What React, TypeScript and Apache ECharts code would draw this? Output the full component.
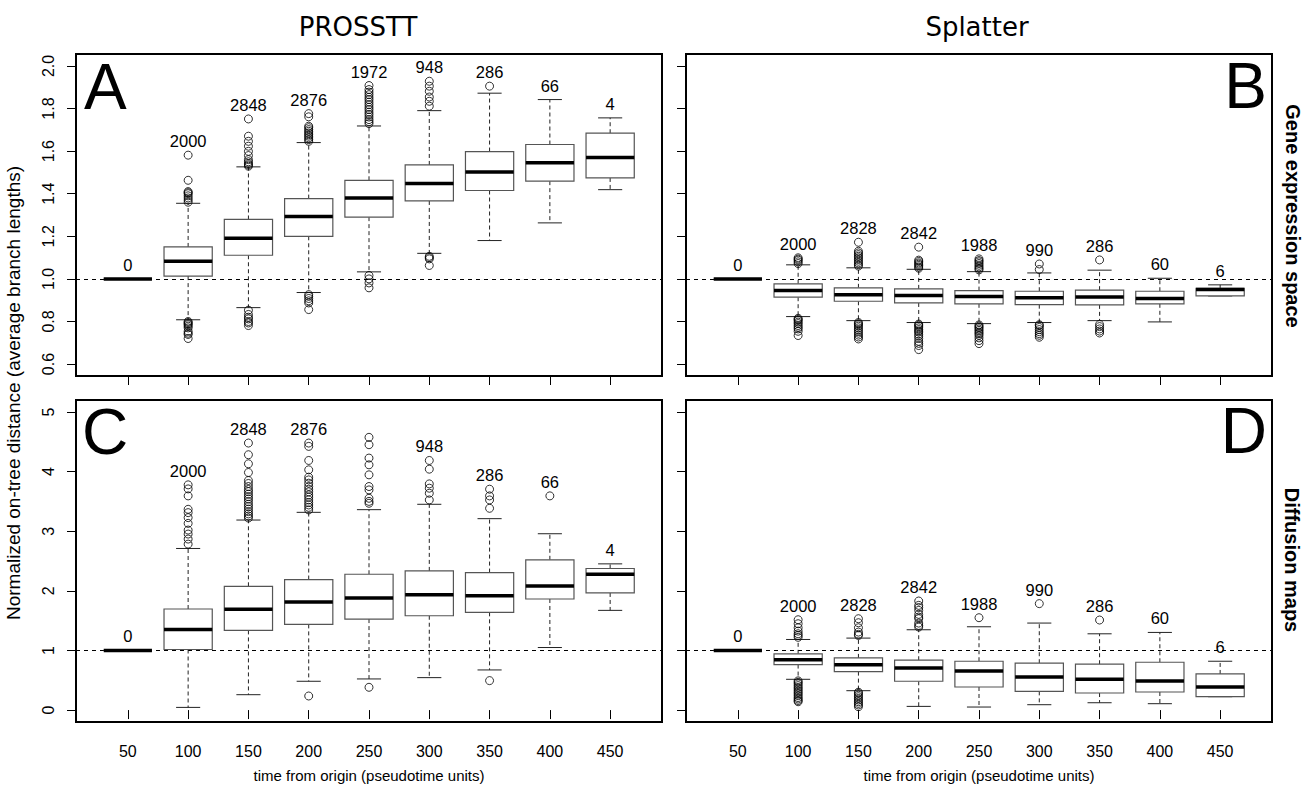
import React, { useEffect, useRef } from "react";
import * as echarts from "echarts";

// ---------- categories / ticks ----------
const TIME_LABELS = ["50", "100", "150", "200", "250", "300", "350", "400", "450"];
const POSITIONS = [1, 2, 3, 4, 5, 6, 7, 8, 9];
const TICKS_TOP = [0.6, 0.8, 1.0, 1.2, 1.4, 1.6, 1.8, 2.0];
const TICKS_BOTTOM = [0, 1, 2, 3, 4, 5];

// ---------- Panel A : PROSSTT, gene expression space ----------
const A_LOW = [1.0, 0.808, 0.865, 0.936, 1.033, 1.12, 1.18, 1.263, 1.419];
const A_Q1 = [1.0, 1.013, 1.111, 1.2, 1.29, 1.366, 1.415, 1.459, 1.474];
const A_MED = [1.0, 1.083, 1.191, 1.293, 1.38, 1.448, 1.502, 1.545, 1.57];
const A_Q3 = [1.0, 1.15, 1.279, 1.377, 1.463, 1.535, 1.598, 1.631, 1.684];
const A_HIGH = [1.0, 1.355, 1.526, 1.64, 1.718, 1.79, 1.872, 1.842, 1.756];
const A_OUT = [
  [],
  [1.581, 1.463, 1.41, 1.405, 1.4, 1.39, 1.38, 1.37, 1.36, 0.8, 0.795, 0.79, 0.785, 0.778, 0.77, 0.754, 0.745, 0.739, 0.72],
  [1.751, 1.67, 1.646, 1.623, 1.599, 1.579, 1.56, 1.55, 1.541, 1.535, 1.529, 0.853, 0.833, 0.82, 0.812, 0.8, 0.793, 0.781],
  [1.776, 1.761, 1.717, 1.71, 1.701, 1.693, 1.685, 1.677, 1.67, 1.662, 1.654, 1.646, 0.926, 0.918, 0.908, 0.897, 0.887, 0.856],
  [1.908, 1.889, 1.877, 1.865, 1.853, 1.842, 1.83, 1.818, 1.806, 1.795, 1.783, 1.772, 1.76, 1.748, 1.738, 1.729, 1.016, 1.0, 0.981, 0.958],
  [1.928, 1.905, 1.881, 1.854, 1.834, 1.811, 1.106, 1.1, 1.094, 1.063],
  [1.905],
  [],
  [],
];
const A_COUNTS = ["0", "2000", "2848", "2876", "1972", "948", "286", "66", "4"];

// ---------- Panel B : Splatter, gene expression space ----------
const B_LOW = [1.0, 0.823, 0.804, 0.795, 0.79, 0.795, 0.804, 0.798, 0.92];
const B_Q1 = [1.0, 0.914, 0.895, 0.887, 0.883, 0.879, 0.878, 0.883, 0.92];
const B_MED = [1.0, 0.945, 0.926, 0.922, 0.917, 0.911, 0.915, 0.908, 0.95];
const B_Q3 = [1.0, 0.977, 0.958, 0.953, 0.945, 0.942, 0.947, 0.942, 0.956];
const B_HIGH = [1.0, 1.066, 1.052, 1.045, 1.034, 1.028, 1.041, 1.003, 0.972];
const B_OUT = [
  [],
  [1.099, 1.093, 1.088, 1.08, 1.072, 0.815, 0.81, 0.805, 0.797, 0.79, 0.781, 0.773, 0.765, 0.754, 0.734],
  [1.172, 1.13, 1.122, 1.114, 1.106, 1.099, 1.091, 1.083, 1.075, 1.067, 1.06, 0.795, 0.79, 0.785, 0.778, 0.77, 0.762, 0.754, 0.745, 0.736, 0.727, 0.718],
  [1.149, 1.088, 1.082, 1.075, 1.069, 1.063, 1.056, 1.05, 0.788, 0.783, 0.778, 0.77, 0.762, 0.755, 0.75, 0.74, 0.731, 0.72, 0.707, 0.697, 0.687, 0.668],
  [1.094, 1.086, 1.08, 1.072, 1.064, 1.056, 1.049, 1.042, 0.784, 0.778, 0.772, 0.765, 0.758, 0.75, 0.743, 0.735, 0.723, 0.71, 0.696],
  [1.07, 1.044, 0.785, 0.781, 0.772, 0.762, 0.752, 0.743, 0.735, 0.726],
  [1.089, 0.786, 0.776, 0.765, 0.755, 0.746],
  [],
  [],
];
const B_COUNTS = ["0", "2000", "2828", "2842", "1988", "990", "286", "60", "6"];

// ---------- Panel C : PROSSTT, diffusion maps ----------
const C_LOW = [1.0, 0.045, 0.258, 0.483, 0.522, 0.544, 0.673, 1.049, 1.672];
const C_Q1 = [1.0, 1.016, 1.336, 1.437, 1.526, 1.582, 1.639, 1.863, 1.964];
const C_MED = [1.0, 1.352, 1.689, 1.813, 1.88, 1.936, 1.919, 2.082, 2.278];
const C_Q3 = [1.0, 1.695, 2.076, 2.189, 2.278, 2.334, 2.306, 2.52, 2.374];
const C_HIGH = [1.0, 2.71, 3.187, 3.316, 3.361, 3.451, 3.21, 2.957, 2.452];
const C_OUT = [
  [],
  [3.777, 3.709, 3.592, 3.367, 3.311, 3.227, 3.131, 3.019, 2.952, 2.868, 2.783],
  [4.478, 4.282, 4.13, 3.984, 3.85, 3.8, 3.749, 3.7, 3.664, 3.62, 3.58, 3.54, 3.496, 3.45, 3.412, 3.37, 3.328, 3.29, 3.255, 3.22],
  [4.478, 4.422, 4.186, 4.029, 3.906, 3.86, 3.805, 3.75, 3.704, 3.66, 3.608, 3.57, 3.524, 3.48, 3.44, 3.4, 3.356, 0.236],
  [4.574, 4.45, 4.226, 4.113, 3.945, 3.749, 3.692, 3.552, 3.5, 3.468, 0.382],
  [4.186, 4.04, 3.793, 3.721, 3.636, 3.524],
  [3.704, 3.592, 3.524, 3.384, 0.494],
  [3.592],
  [],
];
const C_COUNTS = ["0", "2000", "2848", "2876", "", "948", "286", "66", "4"];

// ---------- Panel D : Splatter, diffusion maps ----------
const D_LOW = [1.0, 0.516, 0.325, 0.062, 0.051, 0.09, 0.123, 0.107, 0.224];
const D_Q1 = [1.0, 0.763, 0.645, 0.483, 0.387, 0.314, 0.286, 0.303, 0.224];
const D_MED = [1.0, 0.842, 0.758, 0.707, 0.657, 0.556, 0.516, 0.488, 0.387];
const D_Q3 = [1.0, 0.943, 0.875, 0.836, 0.819, 0.786, 0.769, 0.802, 0.606];
const D_HIGH = [1.0, 1.184, 1.207, 1.347, 1.397, 1.459, 1.279, 1.302, 0.819];
const D_OUT = [
  [],
  [1.515, 1.448, 1.38, 1.324, 1.28, 1.251, 1.22, 0.49, 0.466, 0.44, 0.41, 0.38, 0.354, 0.325, 0.297, 0.27, 0.241, 0.21, 0.185, 0.16, 0.14],
  [1.532, 1.465, 1.38, 1.308, 1.27, 1.251, 0.3, 0.281, 0.25, 0.224, 0.195, 0.168, 0.14, 0.112, 0.085, 0.056],
  [1.829, 1.756, 1.72, 1.672, 1.605, 1.56, 1.532, 1.459, 1.42, 1.392],
  [1.549],
  [1.785],
  [1.51],
  [],
  [],
];
const D_COUNTS = ["0", "2000", "2828", "2842", "1988", "990", "286", "60", "6"];

// ---------- layout ----------
const GRIDS = [
  { left: 76, top: 54, width: 586, height: 322 },
  { left: 686, top: 54, width: 586, height: 322 },
  { left: 76, top: 400, width: 586, height: 322 },
  { left: 686, top: 400, width: 586, height: 322 },
];
const FONT = '"Liberation Sans", Arial, Helvetica, sans-serif';

function boxSeries(idx: number, low: number[], q1: number[], med: number[], q3: number[], high: number[], out: number[][], counts: string[]) {
  const data = POSITIONS.map((p, i) => {
    const top = Math.max(high[i], ...out[i]);
    return [p, low[i], q1[i], med[i], q3[i], high[i], top];
  });
  return {
    type: "custom",
    xAxisIndex: idx,
    yAxisIndex: idx,
    data,
    z: 3,
    clip: false,
    encode: { x: 0, y: [1, 2, 3, 4, 5, 6] },
    renderItem: (params: any, api: any) => {
      const x = api.value(0);
      const cx = api.coord([x, api.value(1)])[0];
      const yLow = api.coord([x, api.value(1)])[1];
      const yQ1 = api.coord([x, api.value(2)])[1];
      const yMed = api.coord([x, api.value(3)])[1];
      const yQ3 = api.coord([x, api.value(4)])[1];
      const yHigh = api.coord([x, api.value(5)])[1];
      const yTop = api.coord([x, api.value(6)])[1];
      const bw = api.size([0.8, 0])[0];
      const half = bw / 2;
      const cap = bw / 4;
      const dash = { stroke: "#222", lineWidth: 1, lineDash: [4, 3] };
      const solid = { stroke: "#222", lineWidth: 1 };
      return {
        type: "group",
        children: [
          { type: "line", shape: { x1: cx, y1: yQ3, x2: cx, y2: yHigh }, style: dash },
          { type: "line", shape: { x1: cx, y1: yQ1, x2: cx, y2: yLow }, style: dash },
          { type: "line", shape: { x1: cx - cap, y1: yHigh, x2: cx + cap, y2: yHigh }, style: solid },
          { type: "line", shape: { x1: cx - cap, y1: yLow, x2: cx + cap, y2: yLow }, style: solid },
          {
            type: "rect",
            shape: { x: cx - half, y: yQ3, width: bw, height: yQ1 - yQ3 },
            style: { fill: "#fff", stroke: "#555", lineWidth: 1.2 },
          },
          { type: "line", shape: { x1: cx - half, y1: yMed, x2: cx + half, y2: yMed }, style: { stroke: "#000", lineWidth: 3.5 } },
          {
            type: "text",
            x: cx,
            y: yTop - 14,
            style: {
              text: counts[params.dataIndex],
              fill: "#000",
              fontSize: 16.5,
              fontFamily: FONT,
              align: "center",
              verticalAlign: "middle",
            },
          },
        ],
      };
    },
  };
}

function outlierSeries(idx: number, out: number[][]) {
  const data: number[][] = [];
  out.forEach((arr, i) => arr.forEach((v) => data.push([POSITIONS[i], v])));
  return {
    type: "scatter",
    xAxisIndex: idx,
    yAxisIndex: idx,
    data,
    symbol: "circle",
    symbolSize: 8,
    z: 4,
    itemStyle: { color: "rgba(0,0,0,0)", borderColor: "#000", borderWidth: 1 },
    markLine: {
      silent: true,
      symbol: "none",
      label: { show: false },
      lineStyle: { type: [4, 4], color: "#000", width: 1 },
      data: [{ yAxis: 1 }],
      z: 2,
    },
  };
}

function xAxisFor(idx: number, showLabels: boolean) {
  return {
    type: "value",
    gridIndex: idx,
    min: 0.14,
    max: 9.86,
    axisLine: { show: false },
    splitLine: { show: false },
    axisTick: { show: true, customValues: POSITIONS, length: 9, lineStyle: { color: "#000", width: 1 } },
    axisLabel: {
      show: showLabels,
      customValues: POSITIONS,
      formatter: (v: number) => TIME_LABELS[Math.round(v) - 1] ?? "",
      color: "#000",
      fontSize: 16,
      fontFamily: FONT,
      margin: 21,
    },
  };
}

function yAxisFor(idx: number, top: boolean, showLabels: boolean) {
  return {
    type: "value",
    gridIndex: idx,
    min: top ? 0.544 : -0.2,
    max: top ? 2.056 : 5.2,
    axisLine: { show: false },
    splitLine: { show: false },
    axisTick: { show: true, customValues: top ? TICKS_TOP : TICKS_BOTTOM, length: 9, lineStyle: { color: "#000", width: 1 } },
    axisLabel: {
      show: showLabels,
      customValues: top ? TICKS_TOP : TICKS_BOTTOM,
      formatter: (v: number) => (top ? v.toFixed(1) : String(Math.round(v))),
      rotate: 90,
      color: "#000",
      fontSize: 16,
      fontFamily: FONT,
      margin: 20,
    },
  };
}

export default function App() {
  const ref = useRef<HTMLDivElement>(null);
  useEffect(() => {
    if (!ref.current) return;
    const chart = echarts.init(ref.current, null, { renderer: "svg" });
    const option: any = {
      animation: false,
      backgroundColor: "#fff",
      grid: GRIDS.map((g) => ({ ...g, show: true, borderColor: "#000", borderWidth: 2, backgroundColor: "#fff" })),
      xAxis: [xAxisFor(0, false), xAxisFor(1, false), xAxisFor(2, true), xAxisFor(3, true)],
      yAxis: [yAxisFor(0, true, true), yAxisFor(1, true, false), yAxisFor(2, false, true), yAxisFor(3, false, false)],
      series: [
        boxSeries(0, A_LOW, A_Q1, A_MED, A_Q3, A_HIGH, A_OUT, A_COUNTS),
        outlierSeries(0, A_OUT),
        boxSeries(1, B_LOW, B_Q1, B_MED, B_Q3, B_HIGH, B_OUT, B_COUNTS),
        outlierSeries(1, B_OUT),
        boxSeries(2, C_LOW, C_Q1, C_MED, C_Q3, C_HIGH, C_OUT, C_COUNTS),
        outlierSeries(2, C_OUT),
        boxSeries(3, D_LOW, D_Q1, D_MED, D_Q3, D_HIGH, D_OUT, D_COUNTS),
        outlierSeries(3, D_OUT),
      ],
      graphic: [
        { type: "text", x: 358, y: 27, style: { text: "PROSSTT", fill: "#000", fontSize: 26, fontFamily: '"DejaVu Sans"', align: "center", verticalAlign: "middle" } },
        { type: "text", x: 977, y: 27, style: { text: "Splatter", fill: "#000", fontSize: 26, fontFamily: '"DejaVu Sans"', align: "center", verticalAlign: "middle" } },
        { type: "text", x: 84, y: 87, z: 10, style: { text: "A", fill: "#000", fontSize: 64, fontFamily: FONT, align: "left", verticalAlign: "middle" } },
        { type: "text", x: 1267, y: 86, z: 10, style: { text: "B", fill: "#000", fontSize: 64, fontFamily: FONT, align: "right", verticalAlign: "middle" } },
        { type: "text", x: 82, y: 432, z: 10, style: { text: "C", fill: "#000", fontSize: 64, fontFamily: FONT, align: "left", verticalAlign: "middle" } },
        { type: "text", x: 1267, y: 431, z: 10, style: { text: "D", fill: "#000", fontSize: 64, fontFamily: FONT, align: "right", verticalAlign: "middle" } },
        {
          type: "text", x: 13, y: 393, rotation: Math.PI / 2,
          style: { text: "Normalized on-tree distance (average branch lengths)", fill: "#000", fontSize: 19, fontFamily: FONT, align: "center", verticalAlign: "middle" },
        },
        { type: "text", x: 369, y: 775, style: { text: "time from origin (pseudotime units)", fill: "#000", fontSize: 15, fontFamily: FONT, align: "center", verticalAlign: "middle" } },
        { type: "text", x: 979, y: 775, style: { text: "time from origin (pseudotime units)", fill: "#000", fontSize: 15, fontFamily: FONT, align: "center", verticalAlign: "middle" } },
        {
          type: "text", x: 1293, y: 216, rotation: -Math.PI / 2,
          style: { text: "Gene expression space", fill: "#000", fontSize: 20, fontWeight: "bold", fontFamily: FONT, align: "center", verticalAlign: "middle" },
        },
        {
          type: "text", x: 1292, y: 560, rotation: -Math.PI / 2,
          style: { text: "Diffusion maps", fill: "#000", fontSize: 20, fontWeight: "bold", fontFamily: FONT, align: "center", verticalAlign: "middle" },
        },
      ],
    };
    chart.setOption(option);
    return () => chart.dispose();
  }, []);
  return <div ref={ref} style={{ position: "absolute", left: 0, top: 0, width: 1307, height: 791 }} />;
}
